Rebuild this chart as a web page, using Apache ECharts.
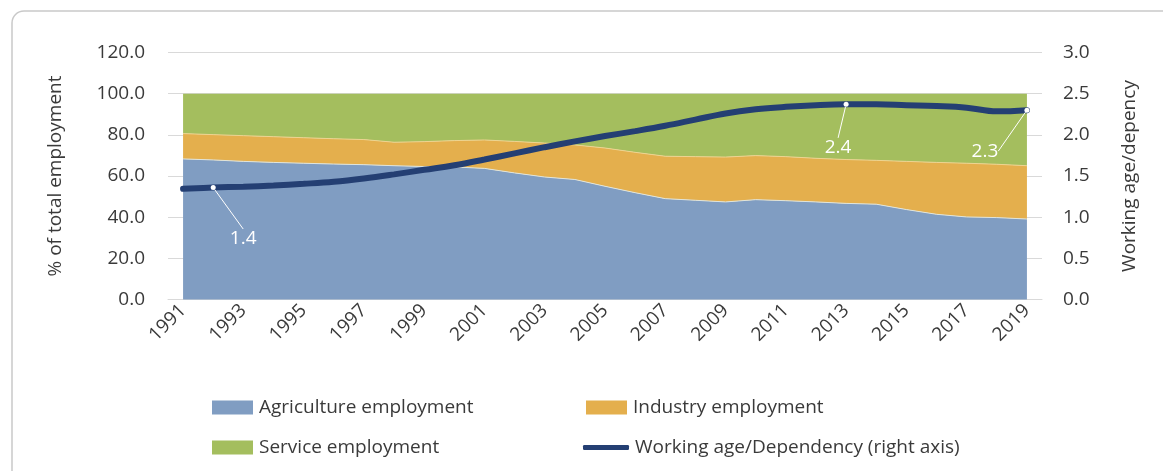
<!DOCTYPE html>
<html lang="en">
<head>
<meta charset="UTF-8">
<title>Employment structure and working age/dependency</title>
<script src="https://cdn.jsdelivr.net/npm/echarts@6/dist/echarts.min.js"></script>
<style>
  html, body { margin: 0; padding: 0; background: #fff; }
  #main { width: 1163px; height: 471px; }
</style>
</head>
<body>
<div id="main"></div>
<script>
  // years on the x axis
  const years = [];
  for (let y = 1991; y <= 2019; y++) years.push(String(y));

  // % of total employment
  const agriculture = [68.3, 67.8, 67.1, 66.6, 66.2, 65.8, 65.5, 65.0, 64.6, 64.4,
    63.7, 61.5, 59.5, 58.3, 55.0, 51.9, 49.0, 48.2, 47.4, 48.5,
    48.0, 47.4, 46.7, 46.3, 43.7, 41.4, 40.1, 39.8, 39.1];
  const industry = [12.3, 12.3, 12.5, 12.5, 12.4, 12.3, 12.2, 11.4, 12.1, 12.8,
    13.8, 15.3, 16.5, 16.8, 18.6, 19.6, 20.6, 21.2, 21.8, 21.4,
    21.4, 21.2, 21.3, 21.3, 23.4, 25.2, 26.1, 25.9, 25.9];
  const service = [19.4, 19.9, 20.4, 20.9, 21.4, 21.9, 22.3, 23.6, 23.3, 22.8,
    22.5, 23.2, 24.0, 24.9, 26.4, 28.5, 30.4, 30.6, 30.8, 30.1,
    30.6, 31.4, 32.0, 32.4, 32.9, 33.4, 33.8, 34.3, 35.0];
  // working age / dependency ratio (right axis)
  const dependency = [1.345, 1.36, 1.37, 1.385, 1.405, 1.43, 1.47, 1.52, 1.575, 1.63,
    1.70, 1.775, 1.85, 1.92, 1.985, 2.045, 2.11, 2.185, 2.26, 2.31,
    2.34, 2.36, 2.37, 2.37, 2.36, 2.35, 2.33, 2.285, 2.30];
  const labelled = [1, 22, 28];

  const leftTicks = { min: 0, max: 120, interval: 20 };
  const rightTicks = { min: 0, max: 3, interval: 0.5 };

  const font = 'Open Sans';
  const textColor = '#3a3a3a';

  const chart = echarts.init(document.getElementById('main'));

  const lineData = dependency.map((v, i) => {
    if (labelled.indexOf(i) < 0) return { value: v, symbolSize: 0 };
    return {
      value: v,
      symbol: 'circle',
      symbolSize: 5,
      itemStyle: { color: '#fff', borderWidth: 0 },
      label: { show: true },
      labelLine: { show: true }
    };
  });

  const option = {
    animation: false,
    textStyle: { fontFamily: font },
    graphic: [{
      type: 'rect',
      shape: { x: 12, y: 11, width: 1300, height: 600, r: 12 },
      style: { fill: 'none', stroke: '#c9c9c9', lineWidth: 1.5 },
      silent: true
    }],
    grid: { left: 168, right: 121, top: 52.5, bottom: 171.5 },
    legend: [
      { data: [{ name: 'Agriculture employment', icon: 'rect' }], left: 207, top: 393 },
      { data: [{ name: 'Industry employment', icon: 'rect' }], left: 581, top: 393 },
      { data: [{ name: 'Service employment', icon: 'rect' }], left: 207, top: 433 },
      { data: [{ name: 'Working age/Dependency (right axis)', icon: 'roundRect' }],
        left: 578, top: 433, itemWidth: 46, itemHeight: 5 }
    ].map(l => Object.assign({
      orient: 'horizontal', itemWidth: 41, itemHeight: 14, selectedMode: false,
      textStyle: { fontFamily: font, fontSize: 19, color: textColor, padding: [0, 0, 0, 1] }
    }, l)),
    xAxis: {
      type: 'category',
      data: years,
      boundaryGap: true,
      axisLine: { lineStyle: { color: '#d9d9d9', width: 1 } },
      axisTick: { show: false },
      axisLabel: { interval: 1, rotate: 45, fontSize: 19, color: textColor, margin: 8, fontFamily: font }
    },
    yAxis: [{
      type: 'value',
      min: leftTicks.min, max: leftTicks.max, interval: leftTicks.interval,
      name: '% of total employment',
      nameLocation: 'middle', nameGap: 103, nameRotate: 90,
      nameTextStyle: { fontSize: 19, color: textColor, fontFamily: font },
      axisLine: { show: false }, axisTick: { show: false },
      splitLine: { lineStyle: { color: '#d9d9d9', width: 1 } },
      axisLabel: { formatter: v => v.toFixed(1), fontSize: 19, color: textColor, margin: 23, fontFamily: font }
    }, {
      type: 'value',
      min: rightTicks.min, max: rightTicks.max, interval: rightTicks.interval,
      name: 'Working age/depency',
      nameLocation: 'middle', nameGap: 78, nameRotate: 90,
      nameTextStyle: { fontSize: 19, color: textColor, fontFamily: font },
      axisLine: { show: false }, axisTick: { show: false },
      splitLine: { show: false },
      axisLabel: { formatter: v => v.toFixed(1), fontSize: 19, color: textColor, margin: 21, fontFamily: font }
    }],
    series: [{
      name: 'Agriculture employment',
      type: 'line', stack: 'emp', data: agriculture,
      symbol: 'none', color: '#809dc2',
      lineStyle: { width: 1, color: '#dfe4dc' },
      areaStyle: { color: '#809dc2', opacity: 1 }
    }, {
      name: 'Industry employment',
      type: 'line', stack: 'emp', data: industry,
      symbol: 'none', color: '#e4af4d',
      lineStyle: { width: 1, color: '#eed38f' },
      areaStyle: { color: '#e4af4d', opacity: 1 }
    }, {
      name: 'Service employment',
      type: 'line', stack: 'emp', data: service,
      symbol: 'none', color: '#a4be5e',
      lineStyle: { width: 0 },
      areaStyle: { color: '#a4be5e', opacity: 1 }
    }, {
      name: 'Working age/Dependency (right axis)',
      type: 'line', yAxisIndex: 1, data: lineData,
      smooth: 0.4, symbol: 'circle', showSymbol: true,
      color: '#243f73',
      lineStyle: { width: 6, color: '#243f73', cap: 'round' },
      z: 5,
      label: {
        show: false, position: 'bottom', distance: 5,
        color: '#fff', fontSize: 19, fontFamily: font,
        formatter: p => p.value.toFixed(1)
      },
      labelLine: { show: false, lineStyle: { color: '#fff', width: 1 } },
      labelLayout: function (p) {
        if (p.dataIndex === 1) return { dx: 30, dy: 34 };
        if (p.dataIndex === 22) return { dx: -8, dy: 26 };
        if (p.dataIndex === 28) return { dx: -42, dy: 24 };
        return {};
      }
    }]
  };

  chart.setOption(option);
</script>
</body>
</html>
